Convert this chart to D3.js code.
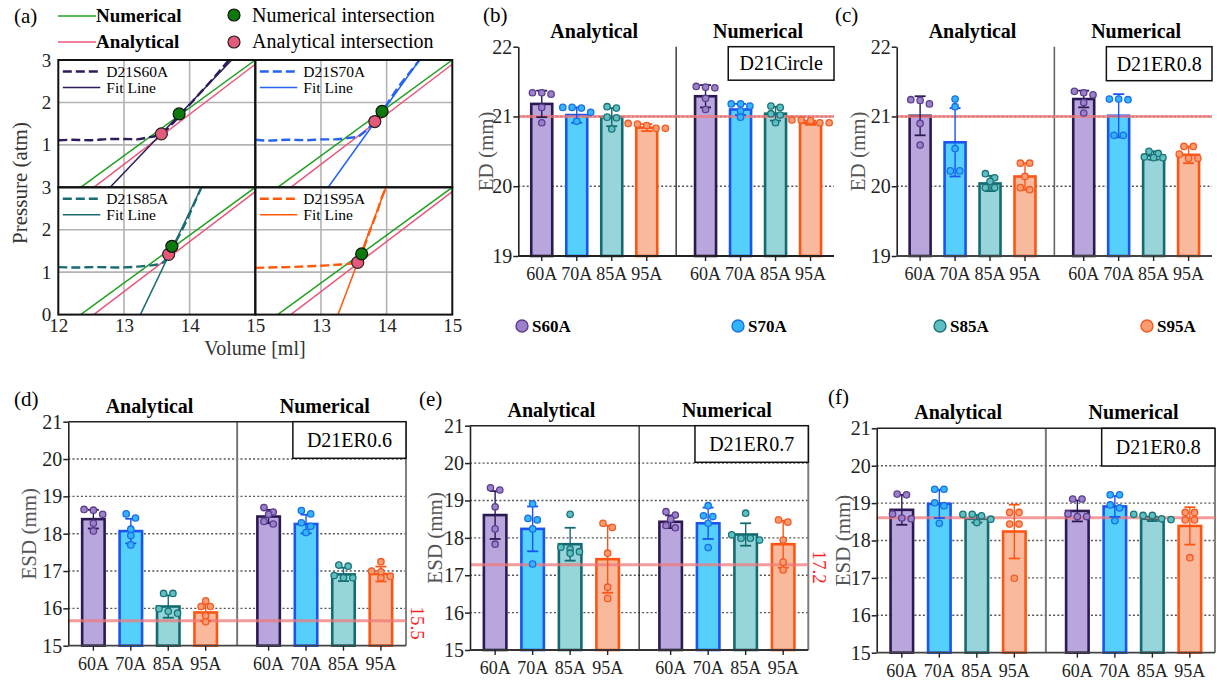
<!DOCTYPE html>
<html>
<head>
<meta charset="utf-8">
<script src="https://cdn.jsdelivr.net/npm/d3@7"></script>
<style>
  body { margin: 0; background: #fff; }
  svg text { font-family: "Liberation Serif", "Times New Roman", serif !important; }
</style>
</head>
<body>
<svg id="chart" width="1217" height="680" font-family="Liberation Serif, serif"></svg>
<script>
// ---------- panel (a) data: pressure vs volume ----------
const volTicks = [12, 13, 14, 15];
const presTicks = [0, 1, 2, 3];
const numericalLine = [[12.34, 0], [15, 3]];
const analyticalLine = [[12.54, 0], [15, 2.9]];
const subNames = ['D21S60A', 'D21S70A', 'D21S85A', 'D21S95A'];
const curveS60A = [[12, 1.11], [12.2, 1.12], [12.5, 1.11], [12.8, 1.14], [13.0, 1.14], [13.2, 1.13], [13.35, 1.17], [13.5, 1.22], [13.6, 1.3], [13.75, 1.52], [13.9, 1.78], [14.1, 2.12], [14.35, 2.55], [14.6, 3.0]];
const curveS70A = [[12, 1.12], [12.2, 1.1], [12.5, 1.12], [12.8, 1.11], [13.0, 1.13], [13.2, 1.13], [13.4, 1.16], [13.55, 1.19], [13.65, 1.29], [13.75, 1.44], [13.85, 1.63], [13.95, 1.83], [14.15, 2.3], [14.4, 2.8], [14.5, 3.0]];
const curveS85A = [[12, 1.12], [12.3, 1.11], [12.6, 1.12], [12.9, 1.11], [13.2, 1.13], [13.4, 1.16], [13.55, 1.19], [13.63, 1.28], [13.7, 1.45], [13.8, 1.75], [13.95, 2.2], [14.05, 2.55], [14.18, 3.0]];
const curveS95A = [[12, 1.1], [12.2, 1.11], [12.5, 1.12], [12.8, 1.14], [13.1, 1.16], [13.3, 1.18], [13.45, 1.2], [13.55, 1.27], [13.62, 1.45], [13.68, 1.7], [13.75, 2.0], [13.85, 2.4], [13.95, 2.85], [14.0, 3.0]];
const fitS60A = [[12.79, 0], [14.64, 3]];
const fitS70A = [[13.11, 0], [14.5, 3]];
const fitS85A = [[13.25, 0], [14.18, 3]];
const fitS95A = [[13.26, 0], [13.99, 3]];
const numIntersect = [[13.84, 1.73], [13.93, 1.79], [13.73, 1.61], [13.62, 1.43]];
const anaIntersect = [[13.57, 1.26], [13.82, 1.55], [13.68, 1.42], [13.56, 1.23]];

// ---------- bar panels data ----------
const methods = ['Analytical', 'Numerical'];
const categories = ['60A', '70A', '85A', '95A'];
const seriesNames = ['S60A', 'S70A', 'S85A', 'S95A'];

// order: Analytical 60A..95A, Numerical 60A..95A
const bMean = [21.18, 21.02, 20.99, 20.84, 21.29, 21.10, 21.04, 20.91];
const bSd = [0.19, 0.11, 0.13, 0.05, 0.16, 0.08, 0.10, 0.03];
const bPts = [
  [21.34, 21.32, 21.34, 21.13, 20.91],
  [21.13, 21.12, 21.13, 21.06, 20.93],
  [21.14, 21.12, 20.99, 20.98, 20.82],
  [20.89, 20.87, 20.90, 20.83, 20.83],
  [21.43, 21.41, 21.42, 21.26, 21.10],
  [21.18, 21.18, 21.15, 21.08, 20.99],
  [21.15, 21.13, 21.04, 21.02, 20.91],
  [20.95, 20.94, 20.95, 20.91, 20.91]
];
const bRef = 21;

const cMean = [21.01, 20.63, 20.04, 20.14, 21.25, 21.01, 20.44, 20.45];
const cSd = [0.28, 0.49, 0.11, 0.19, 0.12, 0.31, 0.06, 0.12];
const cPts = [
  [21.24, 21.23, 21.18, 20.90, 20.59],
  [21.25, 21.14, 20.54, 20.22, 20.22],
  [20.18, 20.12, 20.07, 19.98, 19.98],
  [20.33, 20.33, 20.14, 19.98, 19.95],
  [21.36, 21.34, 21.31, 21.20, 21.05],
  [21.25, 21.25, 21.24, 20.73, 20.73],
  [20.50, 20.47, 20.42, 20.41, 20.41],
  [20.57, 20.57, 20.46, 20.40, 20.40]
];
const cRef = 21;

const dMean = [18.39, 18.07, 16.05, 15.89, 18.46, 18.26, 16.91, 16.92];
const dSd = [0.25, 0.33, 0.30, 0.23, 0.18, 0.25, 0.18, 0.20];
const dPts = [
  [18.65, 18.63, 18.52, 18.28, 18.07],
  [18.53, 18.42, 18.12, 17.95, 17.70],
  [16.40, 16.40, 15.99, 15.92, 15.87],
  [16.20, 16.05, 16.05, 15.80, 15.64],
  [18.70, 18.58, 18.52, 18.33, 18.26],
  [18.62, 18.53, 18.29, 18.20, 18.03],
  [17.16, 17.13, 16.88, 16.82, 16.82],
  [17.25, 17.00, 16.98, 16.86, 16.82]
];
const dRef = 15.67;

const eMean = [18.61, 18.24, 17.83, 17.43, 18.43, 18.39, 18.09, 17.83];
const eSd = [0.64, 0.60, 0.44, 0.90, 0.17, 0.42, 0.30, 0.63];
const ePts = [
  [19.34, 19.28, 18.83, 18.24, 17.83],
  [18.91, 18.52, 18.48, 18.24, 17.30],
  [18.63, 17.75, 17.70, 17.63, 17.59],
  [18.39, 18.28, 17.59, 16.68, 16.38],
  [18.70, 18.61, 18.50, 18.33, 18.27],
  [18.86, 18.59, 18.57, 18.39, 17.74],
  [18.66, 18.08, 17.99, 17.99, 17.94],
  [18.48, 18.42, 17.94, 17.35, 17.14]
];
const eRef = 17.28;

const fMean = [18.82, 18.98, 18.58, 18.24, 18.79, 18.91, 18.58, 18.39];
const fSd = [0.40, 0.38, 0.10, 0.72, 0.28, 0.28, 0.06, 0.50];
const fPts = [
  [19.24, 19.22, 18.71, 18.60, 18.58],
  [19.37, 19.37, 19.01, 18.93, 18.46],
  [18.70, 18.66, 18.70, 18.57, 18.48],
  [18.75, 18.75, 18.44, 18.44, 16.99],
  [19.11, 19.11, 18.71, 18.64, 18.64],
  [19.22, 19.22, 18.95, 18.87, 18.53],
  [18.70, 18.67, 18.67, 18.58, 18.56],
  [18.75, 18.75, 18.55, 18.55, 17.54]
];
const fRef = 18.61;

// ---------- styles ----------
const SERIF = '"Liberation Serif", "Times New Roman", serif';
const barFill = ['#b9a6dd', '#55cffc', '#98d5da', '#f9b99c'];
const barStroke = ['#2b1a52', '#1a55f2', '#146b70', '#ff5512'];
const dotFill = ['#9c80c8', '#33b5fb', '#5dbfc2', '#fb9b72'];
const dotStroke = ['#5b3e92', '#1a6fe8', '#1a7478', '#f25a22'];
const curveColors = ['#2e1b5c', '#2563f0', '#1a6b73', '#ff5a0a'];
const green = '#22a022';
const pink = '#e8587a';

const svg = d3.select('#chart');
const defs = svg.append('defs');
svg.append('rect').attr('width', 1217).attr('height', 680).attr('fill', '#fff');

// ================= panel (a) =================
const aLeft = 58.3, aTop = 60, aW = 197, aH = 127.3;
const curves = [curveS60A, curveS70A, curveS85A, curveS95A];
const fits = [fitS60A, fitS70A, fitS85A, fitS95A];

subNames.forEach((name, i) => {
  const col = i % 2, row = Math.floor(i / 2);
  const sx = aLeft + col * aW, sy = aTop + row * aH;
  const x = d3.scaleLinear().domain([12, 15]).range([sx, sx + aW]);
  const y = d3.scaleLinear().domain([0, 3]).range([sy + aH, sy]);

  defs.append('clipPath').attr('id', 'clipA' + i)
    .append('rect').attr('x', sx).attr('y', sy).attr('width', aW).attr('height', aH);
  const g = svg.append('g').attr('clip-path', `url(#clipA${i})`);

  // grid lines
  g.selectAll(null).data([13, 14]).join('line')
    .attr('x1', (d) => x(d)).attr('x2', (d) => x(d))
    .attr('y1', sy).attr('y2', sy + aH)
    .attr('stroke', '#b3b3b3').attr('stroke-width', 1.6);
  g.selectAll(null).data([1, 2]).join('line')
    .attr('x1', sx).attr('x2', sx + aW)
    .attr('y1', (d) => y(d)).attr('y2', (d) => y(d))
    .attr('stroke', '#b3b3b3').attr('stroke-width', 1.6);

  const line = d3.line().x((d) => x(d[0])).y((d) => y(d[1]));
  g.append('path').attr('d', line(numericalLine)).attr('fill', 'none')
    .attr('stroke', green).attr('stroke-width', 1.5);
  g.append('path').attr('d', line(analyticalLine)).attr('fill', 'none')
    .attr('stroke', pink).attr('stroke-width', 1.5);
  g.append('path').attr('d', line(fits[i])).attr('fill', 'none')
    .attr('stroke', curveColors[i]).attr('stroke-width', 1.5);
  const smooth = d3.line().x((d) => x(d[0])).y((d) => y(d[1])).curve(d3.curveMonotoneX);
  g.append('path').attr('d', smooth(curves[i])).attr('fill', 'none')
    .attr('stroke', curveColors[i]).attr('stroke-width', 2.4)
    .attr('stroke-dasharray', '9,4');

  // intersection markers
  svg.append('circle').attr('cx', x(anaIntersect[i][0])).attr('cy', y(anaIntersect[i][1]))
    .attr('r', 6).attr('fill', '#e55a7a').attr('stroke', '#222').attr('stroke-width', 1.2);
  svg.append('circle').attr('cx', x(numIntersect[i][0])).attr('cy', y(numIntersect[i][1]))
    .attr('r', 6).attr('fill', '#0b7a0b').attr('stroke', '#111').attr('stroke-width', 1.2);

  // in-plot legend
  const lg = svg.append('g').attr('transform', `translate(${sx},${sy})`);
  lg.append('line').attr('x1', 4.5).attr('x2', 42).attr('y1', 11.5).attr('y2', 11.5)
    .attr('stroke', curveColors[i]).attr('stroke-width', 2.6).attr('stroke-dasharray', '9,4');
  lg.append('line').attr('x1', 4.5).attr('x2', 42).attr('y1', 27.5).attr('y2', 27.5)
    .attr('stroke', curveColors[i]).attr('stroke-width', 1.5);
  lg.append('text').attr('x', 48).attr('y', 16.5).attr('font-size', 15.5)
    .attr('font-family', SERIF).text(name);
  lg.append('text').attr('x', 48).attr('y', 33).attr('font-size', 15.5)
    .attr('font-family', SERIF).text('Fit Line');

  // border
  svg.append('rect').attr('x', sx).attr('y', sy).attr('width', aW).attr('height', aH)
    .attr('fill', 'none').attr('stroke', '#111').attr('stroke-width', 2);

  // tick labels
  if (col === 0) {
    const yt = row === 0 ? presTicks.slice(1) : presTicks;
    svg.append('g').attr('transform', `translate(${sx},0)`)
      .call(d3.axisLeft(y).tickValues(yt).tickFormat(d3.format('d')).tickSize(0).tickPadding(7))
      .call((s) => s.select('.domain').remove())
      .attr('font-family', SERIF)
      .selectAll('text').attr('font-size', 19).attr('fill', '#222');
  }
  if (row === 1) {
    const xt = col === 0 ? volTicks : volTicks.slice(1);
    svg.append('g').attr('transform', `translate(0,${sy + aH})`)
      .call(d3.axisBottom(x).tickValues(xt).tickFormat(d3.format('d')).tickSize(0).tickPadding(4))
      .call((s) => s.select('.domain').remove())
      .attr('font-family', SERIF)
      .selectAll('text').attr('font-size', 19).attr('fill', '#222');
  }
});

svg.append('text').attr('transform', 'translate(27,183) rotate(-90)').attr('font-family', SERIF)
  .attr('text-anchor', 'middle').attr('font-size', 21).attr('fill', '#333').text('Pressure (atm)');
svg.append('text').attr('x', 255).attr('y', 355).attr('text-anchor', 'middle').attr('font-family', SERIF)
  .attr('font-size', 20).attr('fill', '#333').text('Volume [ml]');

// top legend of (a)
svg.append('text').attr('x', 14).attr('y', 23).attr('font-size', 21).attr('font-family', SERIF).text('(a)');
svg.append('line').attr('x1', 58).attr('x2', 96).attr('y1', 16).attr('y2', 16)
  .attr('stroke', green).attr('stroke-width', 1.6);
svg.append('line').attr('x1', 58).attr('x2', 96).attr('y1', 42).attr('y2', 42)
  .attr('stroke', pink).attr('stroke-width', 1.6);
svg.append('text').attr('x', 96).attr('y', 22).attr('font-size', 19).attr('font-weight', 'bold')
  .attr('font-family', SERIF).text('Numerical');
svg.append('text').attr('x', 96).attr('y', 48).attr('font-size', 19).attr('font-weight', 'bold')
  .attr('font-family', SERIF).text('Analytical');
svg.append('circle').attr('cx', 234).attr('cy', 15).attr('r', 6)
  .attr('fill', '#0b7a0b').attr('stroke', '#111').attr('stroke-width', 1.2);
svg.append('circle').attr('cx', 234).attr('cy', 42).attr('r', 6)
  .attr('fill', '#e55a7a').attr('stroke', '#222').attr('stroke-width', 1.2);
svg.append('text').attr('x', 252).attr('y', 22).attr('font-size', 20).attr('font-family', SERIF)
  .text('Numerical intersection');
svg.append('text').attr('x', 252).attr('y', 48).attr('font-size', 20).attr('font-family', SERIF)
  .text('Analytical intersection');

// ================= bar panels =================
function swarm(vals, y, spread) {
  const pts = vals.map((v) => ({ v, py: y(v) })).sort((a, b) => a.py - b.py);
  const rows = [];
  pts.forEach((p) => {
    const r = rows[rows.length - 1];
    if (r && p.py - r[0].py < 5.5) r.push(p);
    else rows.push([p]);
  });
  rows.forEach((r) => r.forEach((p, j) => { p.dx = (j - (r.length - 1) / 2) * spread; }));
  return pts;
}

function drawBars(cfg, means, sds, pts, ref) {
  const g = svg.append('g').attr('font-family', SERIF);
  const slot = d3.scaleLinear().domain([-0.67, 8.35]).range([cfg.x0, cfg.x1]);
  const y = d3.scaleLinear().domain(cfg.domain).range([cfg.y1, cfg.y0]);
  const unit = slot(1) - slot(0);
  const cx = (k) => slot(Math.floor(k / 4) * 4.68 + (k % 4));
  const bw = unit * 0.6;
  const base = y(cfg.domain[0]);

  // dotted grid
  g.selectAll(null).data(cfg.grid).join('line')
    .attr('x1', cfg.x0).attr('x2', cfg.x1)
    .attr('y1', (d) => y(d)).attr('y2', (d) => y(d))
    .attr('stroke', '#555').attr('stroke-width', 1.4).attr('stroke-dasharray', '2,2.2');

  // divider between the two methods
  g.append('line').attr('x1', slot(3.84)).attr('x2', slot(3.84))
    .attr('y1', cfg.y0).attr('y2', cfg.y1)
    .attr('stroke', cfg.divColor).attr('stroke-width', cfg.divWidth);

  // frame
  if (cfg.frame) {
    g.append('line').attr('x1', cfg.x0).attr('x2', cfg.x1).attr('y1', cfg.y0).attr('y2', cfg.y0)
      .attr('stroke', '#222').attr('stroke-width', 1.6);
    g.append('line').attr('x1', cfg.x1).attr('x2', cfg.x1).attr('y1', cfg.y0).attr('y2', cfg.y1)
      .attr('stroke', '#808080').attr('stroke-width', 2);
  }

  const rows = means.map((m, k) => ({ k, m, sd: sds[k], s: k % 4 }));

  // bars
  g.selectAll(null).data(rows).join('rect')
    .attr('x', (d) => cx(d.k) - bw / 2).attr('y', (d) => y(d.m))
    .attr('width', bw).attr('height', (d) => base - y(d.m))
    .attr('fill', (d) => barFill[d.s]).attr('stroke', (d) => barStroke[d.s])
    .attr('stroke-width', 2.6);

  // reference line
  g.append('line').attr('x1', cfg.x0).attr('x2', cfg.x1)
    .attr('y1', y(ref)).attr('y2', y(ref))
    .attr('stroke', '#f07a7a').attr('stroke-opacity', 0.75).attr('stroke-width', 3);

  // error bars
  g.selectAll(null).data(rows).join('line')
    .attr('x1', (d) => cx(d.k)).attr('x2', (d) => cx(d.k))
    .attr('y1', (d) => y(d.m - d.sd)).attr('y2', (d) => y(d.m + d.sd))
    .attr('stroke', (d) => barStroke[d.s]).attr('stroke-width', 1.4);
  rows.forEach((d) => {
    [d.m - d.sd, d.m + d.sd].forEach((v) => {
      g.append('line').attr('x1', cx(d.k) - 5.5).attr('x2', cx(d.k) + 5.5)
        .attr('y1', y(v)).attr('y2', y(v))
        .attr('stroke', barStroke[d.s]).attr('stroke-width', 1.8);
    });
  });

  // individual points
  rows.forEach((d) => {
    const sw = swarm(pts[d.k], y, 9.3);
    g.selectAll(null).data(sw).join('circle')
      .attr('cx', (p) => cx(d.k) + p.dx).attr('cy', (p) => p.py).attr('r', 3.2)
      .attr('fill', dotFill[d.s]).attr('stroke', dotStroke[d.s]).attr('stroke-width', 1.3);
  });

  // y axis
  g.append('g').attr('transform', `translate(${cfg.x0},0)`)
    .call(d3.axisLeft(y).tickValues(cfg.ticks).tickFormat(d3.format('d'))
      .tickSize(5).tickSizeOuter(0).tickPadding(1))
    .attr('font-family', SERIF)
    .call((s) => s.select('.domain').attr('stroke', '#222').attr('stroke-width', 1.6))
    .call((s) => s.selectAll('.tick line').attr('stroke', '#222').attr('stroke-width', 1.5))
    .selectAll('text').attr('font-size', 20).attr('fill', '#222');

  // x axis
  g.append('line').attr('x1', cfg.x0).attr('x2', cfg.x1).attr('y1', base).attr('y2', base)
    .attr('stroke', cfg.xColor).attr('stroke-width', 1.8);
  g.selectAll(null).data(rows).join('line')
    .attr('x1', (d) => cx(d.k)).attr('x2', (d) => cx(d.k))
    .attr('y1', base).attr('y2', base + 5)
    .attr('stroke', '#222').attr('stroke-width', 1.4);
  g.selectAll(null).data(rows).join('text')
    .attr('x', (d) => cx(d.k)).attr('y', base + 24)
    .attr('text-anchor', 'middle').attr('font-size', 18).attr('fill', '#222')
    .text((d) => categories[d.s]);

  // method titles
  g.selectAll(null).data(methods).join('text')
    .attr('x', (d, i) => slot(i * 4.68 + 1.5)).attr('y', cfg.y0 - 9)
    .attr('text-anchor', 'middle').attr('font-size', 20).attr('font-weight', 'bold')
    .text((d) => d);

  // sample box
  const boxW = (cfg.x1 - cfg.x0) * 0.335;
  g.append('rect').attr('x', cfg.x1 - boxW).attr('y', cfg.y0)
    .attr('width', boxW).attr('height', cfg.boxH)
    .attr('fill', '#fff').attr('stroke', '#111').attr('stroke-width', 1.5);
  g.append('text').attr('x', cfg.x1 - boxW / 2).attr('y', cfg.y0 + cfg.boxH / 2 + 7)
    .attr('text-anchor', 'middle').attr('font-size', 20).text(cfg.sample);

  // y label and panel letter
  g.append('text')
    .attr('transform', `translate(${cfg.labX},${(cfg.y0 + cfg.y1) / 2}) rotate(-90)`)
    .attr('text-anchor', 'middle').attr('font-size', 21).attr('fill', '#555').text(cfg.yLabel);
  g.append('text').attr('x', cfg.letterX).attr('y', cfg.letterY)
    .attr('font-size', 21).text(cfg.letter);
}

drawBars({ x0: 518.3, x1: 834, y0: 46.7, y1: 256, domain: [19, 22], ticks: [19, 20, 21, 22],
  grid: [20, 21], divColor: '#111', divWidth: 1.2, frame: false, xColor: '#222', boxH: 33.5,
  sample: 'D21Circle', yLabel: 'ED (mm)', labX: 493, letter: '(b)', letterX: 483, letterY: 22 },
  bMean, bSd, bPts, bRef);

drawBars({ x0: 896.7, x1: 1212, y0: 46.7, y1: 256, domain: [19, 22], ticks: [19, 20, 21, 22],
  grid: [20, 21], divColor: '#666', divWidth: 1.6, frame: false, xColor: '#444', boxH: 34,
  sample: 'D21ER0.8', yLabel: 'ED (mm)', labX: 865, letter: '(c)', letterX: 835, letterY: 22 },
  cMean, cSd, cPts, cRef);

drawBars({ x0: 68.3, x1: 406, y0: 421.7, y1: 645.7, domain: [15, 21], ticks: [15, 16, 17, 18, 19, 20, 21],
  grid: [16, 17, 18, 19, 20], divColor: '#777', divWidth: 2, frame: true, xColor: '#444', boxH: 36.6,
  sample: 'D21ER0.6', yLabel: 'ESD (mm)', labX: 36, letter: '(d)', letterX: 14, letterY: 406 },
  dMean, dSd, dPts, dRef);

drawBars({ x0: 470, x1: 808.3, y0: 425.7, y1: 650, domain: [15, 21], ticks: [15, 16, 17, 18, 19, 20, 21],
  grid: [16, 17, 18, 19, 20], divColor: '#222', divWidth: 1.3, frame: true, xColor: '#333', boxH: 36.6,
  sample: 'D21ER0.7', yLabel: 'ESD (mm)', labX: 442, letter: '(e)', letterX: 419, letterY: 406 },
  eMean, eSd, ePts, eRef);

drawBars({ x0: 876.7, x1: 1215, y0: 428.3, y1: 652.7, domain: [15, 21], ticks: [15, 16, 17, 18, 19, 20, 21],
  grid: [16, 17, 18, 19, 20], divColor: '#777', divWidth: 2, frame: true, xColor: '#444', boxH: 37.7,
  sample: 'D21ER0.8', yLabel: 'ESD (mm)', labX: 850, letter: '(f)', letterX: 828, letterY: 404 },
  fMean, fSd, fPts, fRef);

// red value labels beside panels (d) and (e)
[['15.5', 418, 623], ['17.2', 820, 567]].forEach(([t, x, yy]) => {
  svg.append('text').attr('transform', `translate(${x - 7},${yy}) rotate(90)`).attr('font-family', SERIF)
    .attr('text-anchor', 'middle').attr('font-size', 19).attr('fill', '#ff2020').text(t);
});

// series legend
const legX = [522, 738, 940, 1147];
seriesNames.forEach((s, i) => {
  svg.append('circle').attr('cx', legX[i]).attr('cy', 326).attr('r', 6)
    .attr('fill', dotFill[i]).attr('stroke', dotStroke[i]).attr('stroke-width', 1.4);
  svg.append('text').attr('x', legX[i] + 10).attr('y', 332).attr('font-family', SERIF)
    .attr('font-size', 17).attr('font-weight', 'bold').text(s);
});
</script>
</body>
</html>
